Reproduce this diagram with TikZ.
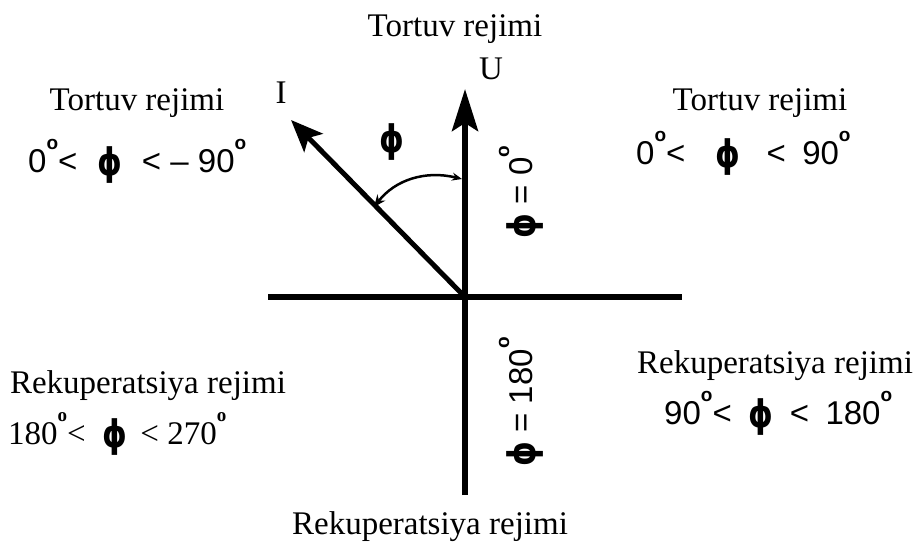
\documentclass[tikz,border=0pt]{standalone}
\usepackage{fontspec}
\setmainfont{Liberation Serif}
\newfontfamily\sansf{Liberation Sans}
\newfontfamily\phif{DejaVu Sans}
\usetikzlibrary{arrows.meta}
\newcommand{\ph}{\raisebox{-3pt}{\scalebox{0.95}[1.15]{\phif\bfseries ϕ}}}
\newcommand{\dg}{\raisebox{23pt}{\fontsize{19}{19}\selectfont\bfseries o}}
\tikzset{
  lbl/.style={inner sep=0pt, font=\fontsize{33}{38}\selectfont},
  mth/.style={inner sep=0pt, font=\sansf\fontsize{33}{38}\selectfont},
  axis/.style={line width=6pt},
  vec/.style={line width=5pt},
}
\begin{document}
\begin{tikzpicture}[x=1pt,y=-1pt]
\useasboundingbox (0,0) rectangle (920,546);
% points
\coordinate (O) at (465,297);
\coordinate (Ut) at (465,89);
\coordinate (Ub) at (465,495);
\coordinate (Hl) at (268,297);
\coordinate (Hr) at (682,297);
\coordinate (It) at (291,120);
\coordinate (A1) at (462,179);
\coordinate (A2) at (374,207);
% axes
\draw[axis] (Hl) -- (Hr);
\draw[axis,-{Stealth[length=42pt,width=26pt,inset=8pt]}] (Ub) -- (Ut);
\draw[vec,-{Stealth[length=32pt,width=26pt,inset=7pt]}] (O) -- (It);
\draw[line width=2.5pt,{Stealth[length=12pt,width=10pt]}-{Stealth[length=10pt,width=8pt]}] (A2) .. controls (395,180) and (425,170) .. (A1);
% labels
\node[lbl] (ttop) at (455,29) {Tortuv rejimi};
\node[lbl] (U) at (491,69) {U};
\node[lbl] (I) at (281,93) {I};
\node[lbl] (phi) at (392,142) {\ph};
\node[lbl] (tl) at (137,103) {Tortuv rejimi};
\node[mth,anchor=base west] (tlm) at (28,172) {0\dg<\hspace{0.6em}\ph\hspace{0.6em}< – 90\dg};
\node[lbl] (tr) at (760,103) {Tortuv rejimi};
\node[mth,anchor=base west] (trm) at (636,164) {0\dg<\hspace{0.9em}\ph\hspace{0.8em}<\hspace{0.5em}90\dg};
\node[mth,rotate=90] (r0) at (521,192) {\ph{} = 0\dg};
\node[mth,rotate=90] (r180) at (521,402) {\ph{} = 180\dg};
\node[lbl] (rl) at (148,386) {Rekuperatsiya rejimi};
\node[lbl,anchor=base west] (rlm) at (8,444) {180\dg<\hspace{0.5em}\ph\hspace{0.4em}< 270\dg};
\node[lbl] (rr) at (775,366) {Rekuperatsiya rejimi};
\node[mth,anchor=base west] (rrm) at (664,424) {90\dg<\hspace{0.5em}\ph\hspace{0.5em}<\hspace{0.5em}180\dg};
\node[lbl] (rb) at (430,527) {Rekuperatsiya rejimi};
\end{tikzpicture}
\end{document}
